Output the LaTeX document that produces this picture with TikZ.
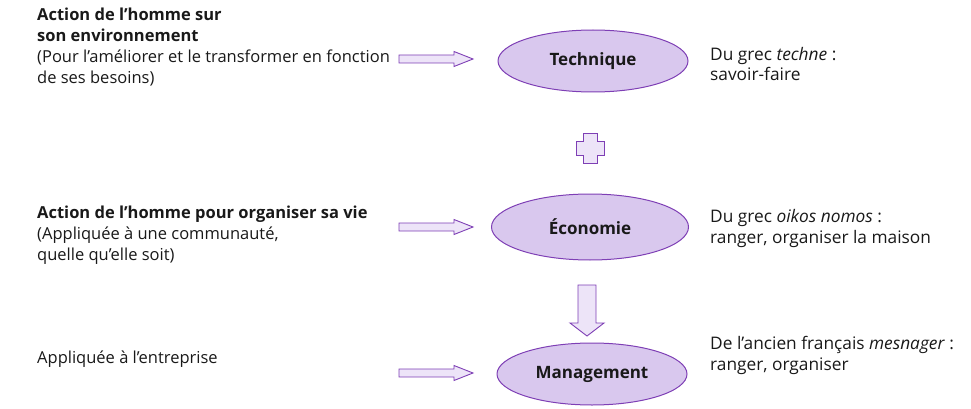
\documentclass[tikz,border=0pt]{standalone}
\usepackage{fontspec}
\setmainfont{Open Sans}
\usetikzlibrary{shapes.geometric}
\definecolor{lav}{HTML}{D9C8EE}
\definecolor{lavlight}{HTML}{EDE4F8}
\definecolor{purp}{HTML}{7E3FB5}
\tikzset{
  concept/.style={ellipse, draw=purp, line width=1pt, fill=lav, minimum width=190pt,
    minimum height=62pt, inner sep=0pt, font=\fontsize{17}{20}\selectfont\bfseries, text=black!90},
  txt/.style={anchor=base west, align=left, inner sep=0pt, font=\fontsize{16.5}{21}\selectfont, text=black!90},
  etym/.style={txt, font=\fontsize{17.3}{20.5}\selectfont},
  blockarrow/.style={draw=purp, line width=0.9pt, fill=lavlight, line join=miter},
  pics/rarrow/.style={code={
    \draw[blockarrow] (0,-4) -- (55,-4) -- (55,-7.5) -- (74,0) -- (55,7.5) -- (55,4) -- (0,4) -- cycle;
  }}
}
\begin{document}
\begin{tikzpicture}[x=1pt,y=-1pt]
\useasboundingbox (0,0) rectangle (971,409);

% concepts
\node[concept] (tech) at (593,61) {Technique};
\node[concept, minimum width=197pt, minimum height=66pt] (eco) at (590,227) {Économie};
\node[concept] (mgmt) at (592,374) {Management};

% left descriptions (anchored on the baseline of their last line)
\node[txt] (d1) at (37,84) {\textbf{Action de l’homme sur}\\ \textbf{son environnement}\\ (Pour l’améliorer et le transformer en fonction\\ de ses besoins)};
\node[txt] (d2) at (37,260) {\textbf{Action de l’homme pour organiser sa vie}\\ (Appliquée à une communauté,\\ quelle qu’elle soit)};
\node[txt] (d3) at (37,363) {Appliquée à l’entreprise};

% right etymologies
\node[etym] (e1) at (710,81) {Du grec \textit{techne} :\\ savoir-faire};
\node[etym] (e2) at (710,243) {Du grec \textit{oikos nomos} :\\ ranger, organiser la maison};
\node[etym] (e3) at (710,370) {De l’ancien français \textit{mesnager} :\\ ranger, organiser};

% block arrows pointing to the concepts
\pic at (399,59) {rarrow};
\pic at (399,227) {rarrow};
\pic at (399,373) {rarrow};

% plus sign between technique and economy
\draw[blockarrow] (583,133) -- (597,133) -- (597,141) -- (604,141) -- (604,155) -- (597,155)
  -- (597,163) -- (583,163) -- (583,155) -- (576,155) -- (576,141) -- (583,141) -- cycle;

% down arrow from economy to management
\draw[blockarrow] (578,285) -- (596,285) -- (596,323) -- (604,323) -- (587,336) -- (570,323)
  -- (578,323) -- cycle;
\end{tikzpicture}
\end{document}
